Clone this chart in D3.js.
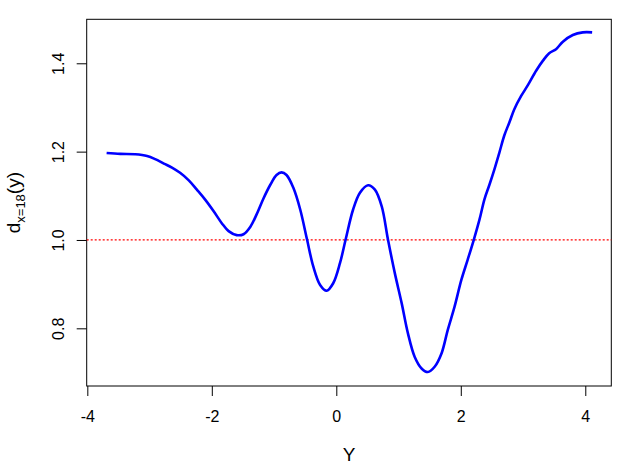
<!DOCTYPE html>
<html>
<head>
<meta charset="utf-8">
<script src="https://cdn.jsdelivr.net/npm/d3@7"></script>
<style>
  body { margin: 0; background: #fff; }
  text { font-family: "Liberation Sans", Arial, sans-serif; fill: #000; }
</style>
</head>
<body>
<div id="chart"></div>
<script>
// Točke krivulje d_{x=18}(y), odčitane s slike
const yVals = [-3.69, -3.47, -3.23, -3.04, -2.91, -2.77, -2.64, -2.51, -2.37, -2.24,
  -2.11, -1.97, -1.84, -1.73, -1.60, -1.49, -1.38, -1.28, -1.17, -1.06,
  -0.96, -0.88, -0.80, -0.69, -0.58, -0.47, -0.37, -0.26, -0.155, -0.05,
  0.06, 0.15, 0.27, 0.38, 0.51, 0.62, 0.73, 0.83, 0.94, 1.05,
  1.15, 1.26, 1.37, 1.47, 1.58, 1.69, 1.79, 1.90, 2.01, 2.11,
  2.21, 2.30, 2.38, 2.46, 2.54, 2.62, 2.70, 2.78, 2.86, 2.97,
  3.08, 3.21, 3.32, 3.42, 3.53, 3.64, 3.80, 3.96, 4.11];
const dVals = [1.197, 1.195, 1.194, 1.190, 1.183, 1.173, 1.164, 1.152, 1.135, 1.114,
  1.092, 1.065, 1.038, 1.020, 1.011, 1.013, 1.030, 1.058, 1.094, 1.125,
  1.147, 1.153, 1.147, 1.118, 1.069, 1.001, 0.940, 0.898, 0.885, 0.902,
  0.948, 1.001, 1.069, 1.107, 1.124, 1.114, 1.076, 1.001, 0.925, 0.857,
  0.789, 0.735, 0.709, 0.701, 0.713, 0.743, 0.796, 0.849, 0.910, 0.955,
  1.001, 1.046, 1.092, 1.125, 1.160, 1.198, 1.237, 1.266, 1.296, 1.326,
  1.351, 1.383, 1.406, 1.423, 1.432, 1.449, 1.464, 1.470, 1.470];

// Oznake osi
const xTicks = [-4, -2, 0, 2, 4];
const yTicks = [0.8, 1.0, 1.2, 1.4];
const refLevel = 1.0;

const W = 631, H = 473;
const plot = { left: 86.7, right: 611.3, top: 19.3, bottom: 386 };

const svg = d3.select("#chart").append("svg")
  .attr("width", W).attr("height", H);

const xScale = d3.scaleLinear().domain([-4.01, 4.418]).range([plot.left, plot.right]);
const yScale = d3.scaleLinear().domain([0.6694, 1.4996]).range([plot.bottom, plot.top]);

// Os x
const xAxis = svg.append("g")
  .attr("transform", `translate(0,${plot.bottom})`)
  .call(d3.axisBottom(xScale).tickValues(xTicks).tickSize(10).tickPadding(0).tickFormat(d => String(d)));
xAxis.select(".domain").remove();
xAxis.selectAll("line").attr("stroke", "#000");
xAxis.selectAll("text")
  .attr("font-size", "16px").attr("font-family", "Liberation Sans, Arial, sans-serif")
  .attr("dy", null).attr("y", 36).attr("fill", "#000");

// Os y (rotirane oznake)
const yAxis = svg.append("g")
  .attr("transform", `translate(${plot.left},0)`)
  .call(d3.axisLeft(yScale).tickValues(yTicks).tickSize(10).tickFormat(d3.format(".1f")));
yAxis.select(".domain").remove();
yAxis.selectAll("line").attr("stroke", "#000");
yAxis.selectAll("text")
  .attr("font-size", "16px").attr("font-family", "Liberation Sans, Arial, sans-serif")
  .attr("x", null).attr("dy", null)
  .attr("text-anchor", "middle")
  .attr("transform", "translate(-23,0) rotate(-90)")
  .attr("fill", "#000");

// Okvir
svg.append("rect")
  .attr("x", plot.left).attr("y", plot.top)
  .attr("width", plot.right - plot.left).attr("height", plot.bottom - plot.top)
  .attr("fill", "none").attr("stroke", "#000").attr("stroke-width", 1);

// Referenčna črta
svg.append("line")
  .attr("x1", plot.left).attr("x2", plot.right)
  .attr("y1", yScale(refLevel)).attr("y2", yScale(refLevel))
  .attr("stroke", "#ff0000").attr("stroke-width", 1.2)
  .attr("stroke-dasharray", "2,2");

// Krivulja
const line = d3.line()
  .x((d, i) => xScale(yVals[i]))
  .y(d => yScale(d))
  .curve(d3.curveCatmullRom.alpha(0.5));

svg.append("path")
  .datum(dVals)
  .attr("d", line)
  .attr("fill", "none")
  .attr("stroke", "#0000ff")
  .attr("stroke-width", 2.6)
  .attr("stroke-linejoin", "round");

// Naslovi osi
svg.append("text")
  .attr("x", (plot.left + plot.right) / 2).attr("y", 461)
  .attr("text-anchor", "middle").attr("font-size", "19px")
  .text("Y");

const yl = svg.append("text")
  .attr("transform", `translate(19.5,${(plot.top + plot.bottom) / 2}) rotate(-90)`)
  .attr("text-anchor", "middle").attr("font-size", "19px");
yl.append("tspan").text("d");
yl.append("tspan").attr("font-size", "13px").attr("dy", 5).text("x=18");
yl.append("tspan").attr("dy", -5).text("(y)");
</script>
</body>
</html>
